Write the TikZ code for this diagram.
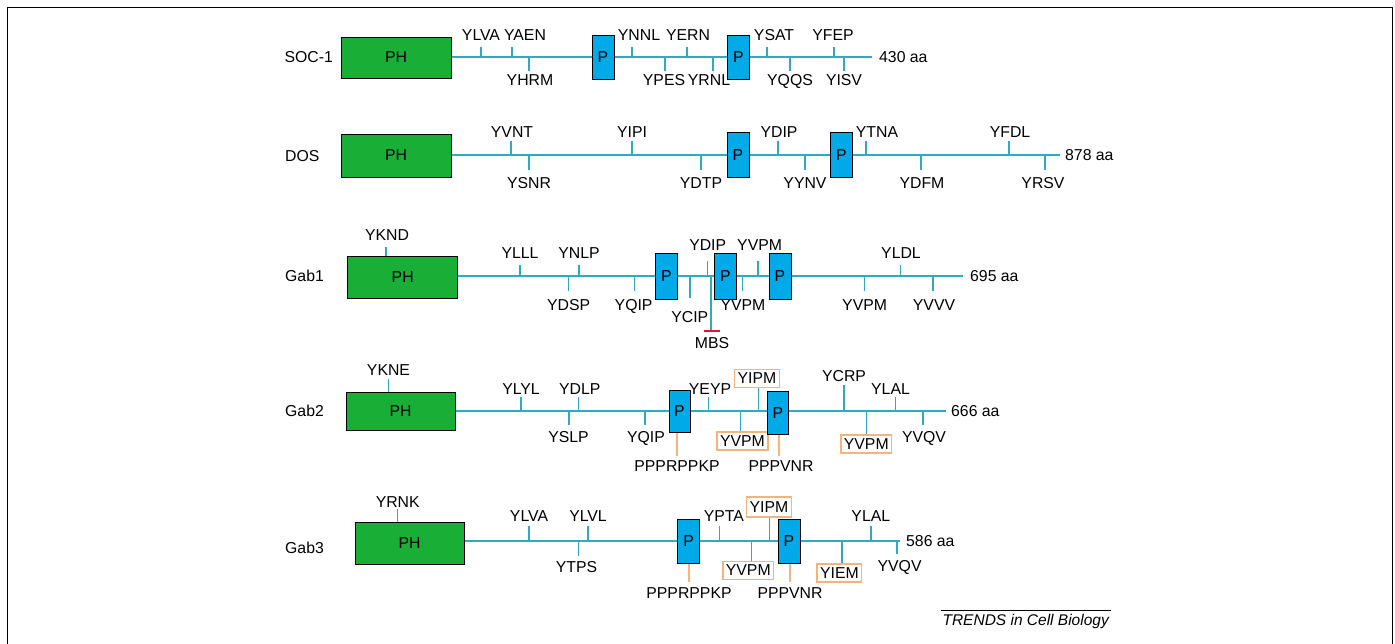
\documentclass[tikz,border=0pt]{standalone}
\usepackage{fontspec}
\setmainfont{Liberation Sans}
\definecolor{lncol}{HTML}{2FAAC2}
\definecolor{phcol}{HTML}{19AE36}
\definecolor{pcol}{HTML}{00A9E8}
\definecolor{orcol}{HTML}{F5B47E}
\definecolor{mbscol}{HTML}{E3123A}
\newcommand\fs{\fontsize{15.8}{18}\selectfont}
\tikzset{
  lbl/.style={font=\fs, inner sep=0pt},
  ln/.style={draw=lncol, line width=1.5pt},
  oln/.style={draw=orcol, line width=1.4pt},
  phbox/.style={draw=black, fill=phcol, line width=1pt, minimum width=110pt, minimum height=41pt, inner sep=0pt, font=\fs},
  pbox/.style={draw=black, fill=pcol, line width=1pt, minimum width=22pt, minimum height=44pt, inner sep=0pt, font=\fs},
  obox/.style={draw=orcol, line width=1.5pt, inner xsep=3pt, inner ysep=0pt, minimum height=18pt, font=\fs},
}
\newcommand\rowset[4]{\def\ut{#1}\def\ub{#2}\def\dt{#3}\def\db{#4}}
% up tick: name, tick x, line y, label x, text
\newcommand\tup[5]{%
  \coordinate (#1a) at (#2,#3);
  \coordinate (#1b) at (#2,#3-\ut);
  \draw[ln] (#1a) -- (#1b);
  \node[lbl,anchor=base] (#1) at (#4,#3-\ub) {#5};}
\newcommand\tdn[5]{%
  \coordinate (#1a) at (#2,#3);
  \coordinate (#1b) at (#2,#3+\dt);
  \draw[ln] (#1a) -- (#1b);
  \node[lbl,anchor=base] (#1) at (#4,#3+\db) {#5};}
\begin{document}
\begin{tikzpicture}[x=1pt,y=-1pt]
\useasboundingbox (0,0) rectangle (1395,643);
% frame
\draw[line width=1.3pt] (7.3,660) -- (7.3,7.3) -- (1392.7,7.3) -- (1392.7,660);

% ================= SOC-1 =================
\node[lbl,anchor=east] (n1) at (333,57) {SOC-1};
\node[phbox] (ph1) at (396,57.5) {PH};
\coordinate (e1) at (872,57);
\draw[ln] (ph1.east |- e1) -- (e1);
\node[lbl,anchor=west] (aa1) at (879,57) {430 aa};
\rowset{10}{17}{14}{28}
\tup{s1}{481}{57}{481}{YLVA}
\tup{s2}{512}{57}{525}{YAEN}
\tup{s3}{632}{57}{639}{YNNL}
\tup{s4}{687}{57}{688}{YERN}
\tup{s5}{767}{57}{774}{YSAT}
\tup{s6}{834}{57}{833}{YFEP}
\tdn{s7}{529}{57}{530}{YHRM}
\tdn{s8}{665}{57}{664}{YPES}
\tdn{s9}{713}{57}{709}{YRNL}
\tdn{s10}{790}{57}{790}{YQQS}
\tdn{s11}{844}{57}{844}{YISV}
\node[pbox] (p11) at (603,57) {P};
\node[pbox] (p12) at (738.5,57) {P};

% ================= DOS =================
\node[lbl,anchor=west] (n2) at (285,156) {DOS};
\node[phbox,minimum height=43pt] (ph2) at (396,155.5) {PH};
\coordinate (e2) at (1060,155);
\draw[ln] (ph2.east |- e2) -- (e2);
\node[lbl,anchor=west] (aa2) at (1065,155) {878 aa};
\rowset{14}{18}{15}{33}
\tup{d1}{511}{155}{512}{YVNT}
\tup{d2}{632}{155}{632}{YIPI}
\tup{d3}{778}{155}{779}{YDIP}
\tup{d4}{866}{155}{877}{YTNA}
\tup{d5}{1009}{155}{1010}{YFDL}
\tdn{d6}{529}{155}{529}{YSNR}
\tdn{d7}{701}{155}{701}{YDTP}
\tdn{d8}{805}{155}{805}{YYNV}
\tdn{d9}{921}{155}{922}{YDFM}
\tdn{d10}{1045}{155}{1043}{YRSV}
\node[pbox,minimum height=45pt] (p21) at (738,155) {P};
\node[pbox,minimum height=45pt] (p22) at (841.5,155) {P};

% ================= Gab1 =================
\node[lbl,anchor=west] (n3) at (285,276) {Gab1};
\node[phbox,minimum height=42pt] (ph3) at (402.7,277.5) {PH};
\coordinate (e3) at (963,276);
\draw[ln] (ph3.east |- e3) -- (e3);
\node[lbl,anchor=west] (aa3) at (970,276) {695 aa};
\coordinate (k3) at (386,246.7);
\draw[ln] (ph3.north -| k3) -- (k3);
\node[lbl,anchor=base] (ykd) at (387,240) {YKND};
\rowset{11}{18}{15}{34}
\tup{g1}{520}{276}{520}{YLLL}
\tup{g2}{579}{276}{579}{YNLP}
\tup{g3}{900.5}{276}{901}{YLDL}
\rowset{15}{26}{15}{34}
\tup{g4}{707.7}{276}{707.7}{YDIP}
\tup{g5}{758}{276}{759.6}{YVPM}
\rowset{11}{18}{15}{34}
\tdn{g6}{568.7}{276}{568.7}{YDSP}
\tdn{g7}{634.6}{276}{633.6}{YQIP}
\tdn{g8}{742.7}{276}{743}{YVPM}
\tdn{g9}{864.6}{276}{864.6}{YVPM}
\tdn{g10}{932.8}{276}{934}{YVVV}
\rowset{11}{18}{22}{46}
\tdn{g11}{689.8}{276}{689.8}{YCIP}
% MBS
\coordinate (mb0) at (711,276);
\coordinate (mb1) at (711,331);
\draw[ln] (mb0) -- (mb1);
\coordinate (mbl) at (703.5,331);
\coordinate (mbr) at (719.5,331);
\draw[draw=mbscol, line width=2.6pt] (mbl) -- (mbr);
\node[lbl,anchor=base] (mbs) at (712,348) {MBS};
\node[pbox,minimum height=46pt] (p31) at (666.5,276) {P};
\node[pbox,minimum height=46pt] (p32) at (725.5,276) {P};
\node[pbox,minimum height=46pt] (p33) at (780,276) {P};

% ================= Gab2 =================
\node[lbl,anchor=west] (n4) at (285,411) {Gab2};
\node[phbox,minimum height=38pt,minimum width=109pt] (ph4) at (400.5,411) {PH};
\coordinate (e4) at (946,411);
\draw[ln] (ph4.east |- e4) -- (e4);
\node[lbl,anchor=west] (aa4) at (951,411) {666 aa};
\coordinate (k4) at (388.5,379);
\draw[ln] (ph4.north -| k4) -- (k4);
\node[lbl,anchor=base] (ykn) at (388.5,375.5) {YKNE};
\rowset{14}{17}{14}{31}
\tup{h1}{520.8}{411}{521}{YLYL}
\tup{h2}{578.5}{411}{579.7}{YDLP}
\tup{h3}{708.5}{411}{710}{YEYP}
\tup{h5}{895.6}{411}{890.5}{YLAL}
\rowset{26}{30}{14}{31}
\tup{h4}{844}{411}{844}{YCRP}
\rowset{14}{17}{14}{31}
\tdn{h6}{569}{411}{568.5}{YSLP}
\tdn{h7}{645}{411}{646}{YQIP}
\tdn{h8}{923}{411}{924}{YVQV}
% boxed
\node[obox] (hb1) at (757,378.5) {YIPM};
\coordinate (hb1t) at (758.5,411);
\draw[ln] (hb1t) -- (hb1t |- hb1.south);
\node[obox] (hb2) at (742.5,441) {YVPM};
\coordinate (hb2t) at (740.5,411);
\draw[ln] (hb2t) -- (hb2t |- hb2.north);
\node[obox] (hb3) at (866.3,444) {YVPM};
\coordinate (hb3t) at (866.6,411);
\draw[ln] (hb3t) -- (hb3t |- hb3.north);
\node[pbox,minimum height=42pt,minimum width=21pt] (p41) at (679.5,411) {P};
\node[pbox,minimum height=43pt,minimum width=21pt] (p42) at (777.8,413) {P};
\coordinate (o41) at (677,456);
\draw[oln] (o41 |- p41.south) -- (o41);
\node[lbl,anchor=base] (pk4) at (677,471) {PPPRPPKP};
\coordinate (o42) at (779,456);
\draw[oln] (o42 |- p42.south) -- (o42);
\node[lbl,anchor=base] (pv4) at (781,471) {PPPVNR};

% ================= Gab3 =================
\node[lbl,anchor=west] (n5) at (285,548) {Gab3};
\node[phbox,minimum height=42pt,minimum width=109pt] (ph5) at (409.5,543) {PH};
\coordinate (e5) at (900,541);
\draw[ln] (ph5.east |- e5) -- (e5);
\node[lbl,anchor=west] (aa5) at (906,541) {586 aa};
\coordinate (k5) at (397.7,509);
\draw[ln] (ph5.north -| k5) -- (k5);
\node[lbl,anchor=base] (yrk) at (397.7,507) {YRNK};
\rowset{15}{20}{15}{31}
\tup{q1}{529}{541}{529}{YLVA}
\tup{q2}{588}{541}{588}{YLVL}
\tup{q3}{719.6}{541}{723.8}{YPTA}
\tup{q4}{870.8}{541}{870.8}{YLAL}
\tdn{q5}{578.5}{541}{576.5}{YTPS}
\rowset{15}{20}{13}{30}
\tdn{q6}{897}{541}{899.6}{YVQV}
\node[obox,minimum height=20pt] (qb1) at (769,507) {YIPM};
\coordinate (qb1t) at (769.6,541);
\draw[ln] (qb1t) -- (qb1t |- qb1.south);
\node[obox] (qb2) at (748.3,570.5) {YVPM};
\coordinate (qb2t) at (751.5,541);
\draw[ln] (qb2t) -- (qb2t |- qb2.north);
\node[obox] (qb3) at (839.4,573) {YIEM};
\coordinate (qb3t) at (842,541);
\draw[ln] (qb3t) -- (qb3t |- qb3.north);
\node[pbox] (p51) at (688.6,541) {P};
\node[pbox] (p52) at (789,541) {P};
\coordinate (o51) at (689,582);
\draw[oln] (o51 |- p51.south) -- (o51);
\node[lbl,anchor=base] (pk5) at (689,598) {PPPRPPKP};
\coordinate (o52) at (790,582);
\draw[oln] (o52 |- p52.south) -- (o52);
\node[lbl,anchor=base] (pv5) at (790,598) {PPPVNR};

% ================= footer =================
\coordinate (fl) at (940.7,610.7);
\coordinate (fr) at (1110.7,610.7);
\draw[line width=0.8pt] (fl) -- (fr);
\node[font=\fontsize{15.5}{18}\selectfont\itshape, inner sep=0pt, anchor=base] (trends) at (1025.7,625.5) {TRENDS in Cell Biology};
\end{tikzpicture}
\end{document}
